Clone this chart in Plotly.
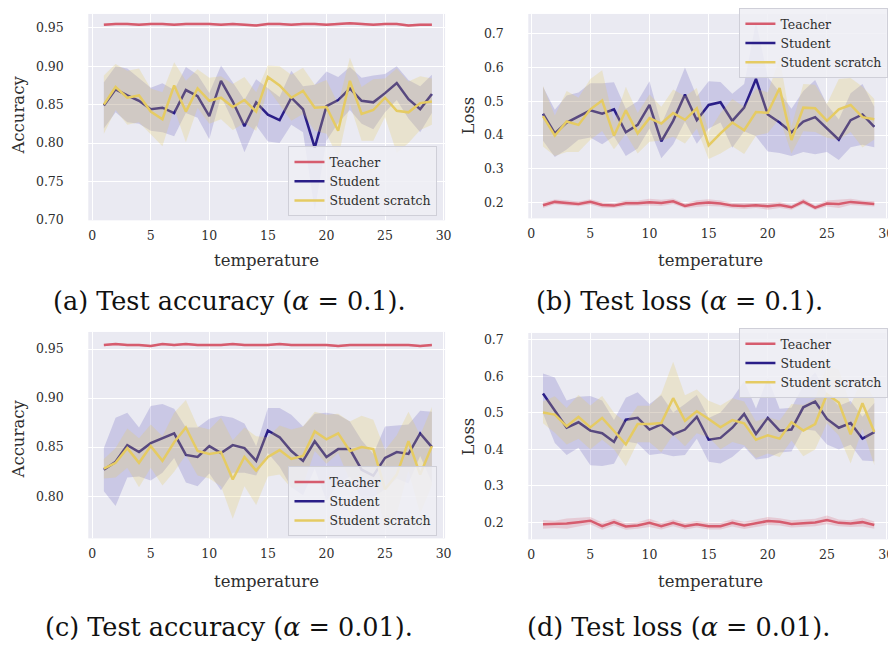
import plotly.graph_objects as go

W, H = 896, 646

temperature = list(range(1, 30))

# ---- (a) Test accuracy, alpha = 0.1 ----
a_teacher = [0.954, 0.955, 0.955, 0.954, 0.955, 0.955, 0.954, 0.955, 0.955, 0.955,
             0.954, 0.955, 0.954, 0.953, 0.955, 0.955, 0.954, 0.955, 0.955, 0.954,
             0.955, 0.956, 0.955, 0.954, 0.955, 0.955, 0.953, 0.954, 0.954]
a_teacher_sd = [0.0015] * 29
a_student = [0.849, 0.870, 0.862, 0.855, 0.844, 0.846, 0.839, 0.869, 0.861, 0.835,
             0.881, 0.854, 0.822, 0.853, 0.837, 0.830, 0.859, 0.844, 0.794, 0.848,
             0.856, 0.871, 0.855, 0.853, 0.865, 0.878, 0.857, 0.844, 0.864]
a_student_sd = [0.030, 0.030, 0.035, 0.030, 0.028, 0.032, 0.030, 0.030, 0.028, 0.030,
                0.020, 0.025, 0.034, 0.030, 0.035, 0.030, 0.035, 0.030, 0.082, 0.045,
                0.030, 0.028, 0.030, 0.035, 0.025, 0.022, 0.025, 0.030, 0.025]
a_scratch = [0.850, 0.873, 0.859, 0.862, 0.841, 0.831, 0.875, 0.841, 0.871, 0.855,
             0.859, 0.847, 0.856, 0.841, 0.886, 0.875, 0.859, 0.868, 0.846, 0.847,
             0.816, 0.881, 0.838, 0.843, 0.859, 0.842, 0.840, 0.852, 0.854]
a_scratch_sd = [0.038, 0.030, 0.035, 0.035, 0.030, 0.035, 0.030, 0.040, 0.025, 0.030,
                0.028, 0.030, 0.030, 0.025, 0.015, 0.025, 0.030, 0.030, 0.030, 0.035,
                0.035, 0.030, 0.035, 0.040, 0.025, 0.055, 0.040, 0.035, 0.030]

# ---- (b) Test loss, alpha = 0.1 ----
b_teacher = [0.192, 0.202, 0.199, 0.196, 0.202, 0.193, 0.191, 0.198, 0.198, 0.201,
             0.199, 0.204, 0.190, 0.197, 0.200, 0.197, 0.191, 0.190, 0.192, 0.189,
             0.193, 0.186, 0.203, 0.185, 0.197, 0.196, 0.202, 0.198, 0.196]
b_teacher_sd = [0.008, 0.007, 0.008, 0.007, 0.008, 0.008, 0.007, 0.008, 0.008, 0.010,
                0.009, 0.008, 0.007, 0.010, 0.010, 0.009, 0.008, 0.009, 0.008, 0.010,
                0.009, 0.007, 0.008, 0.007, 0.009, 0.012, 0.009, 0.008, 0.008]
b_student = [0.463, 0.405, 0.437, 0.456, 0.473, 0.463, 0.476, 0.408, 0.430, 0.489,
             0.381, 0.442, 0.520, 0.444, 0.489, 0.497, 0.442, 0.481, 0.566, 0.461,
             0.437, 0.408, 0.440, 0.453, 0.420, 0.386, 0.444, 0.461, 0.424]
b_student_sd = [0.080, 0.070, 0.080, 0.070, 0.080, 0.090, 0.080, 0.070, 0.070, 0.070,
                0.050, 0.070, 0.080, 0.070, 0.070, 0.060, 0.080, 0.070, 0.170, 0.110,
                0.090, 0.070, 0.090, 0.110, 0.070, 0.060, 0.080, 0.090, 0.060]
b_scratch = [0.456, 0.398, 0.440, 0.430, 0.476, 0.502, 0.398, 0.473, 0.405, 0.450,
             0.434, 0.465, 0.445, 0.479, 0.369, 0.405, 0.437, 0.414, 0.468, 0.466,
             0.539, 0.385, 0.481, 0.479, 0.442, 0.476, 0.489, 0.453, 0.447]
b_scratch_sd = [0.090, 0.060, 0.090, 0.080, 0.090, 0.090, 0.040, 0.070, 0.060, 0.070,
                0.050, 0.070, 0.070, 0.060, 0.040, 0.060, 0.070, 0.070, 0.070, 0.060,
                0.090, 0.040, 0.070, 0.070, 0.050, 0.090, 0.080, 0.090, 0.060]

# ---- (c) Test accuracy, alpha = 0.01 ----
c_teacher = [0.954, 0.955, 0.954, 0.954, 0.953, 0.955, 0.954, 0.955, 0.954, 0.954,
             0.954, 0.955, 0.954, 0.954, 0.954, 0.955, 0.954, 0.954, 0.954, 0.954,
             0.953, 0.954, 0.954, 0.954, 0.954, 0.954, 0.954, 0.953, 0.954]
c_teacher_sd = [0.0012] * 29
c_student = [0.827, 0.835, 0.852, 0.845, 0.854, 0.859, 0.864, 0.842, 0.840, 0.851,
             0.844, 0.852, 0.849, 0.836, 0.867, 0.860, 0.846, 0.836, 0.856, 0.840,
             0.848, 0.848, 0.827, 0.821, 0.839, 0.845, 0.843, 0.864, 0.850]
c_student_sd = [0.022, 0.045, 0.033, 0.025, 0.038, 0.035, 0.025, 0.028, 0.030, 0.028,
                0.038, 0.028, 0.025, 0.015, 0.023, 0.030, 0.037, 0.035, 0.028, 0.045,
                0.035, 0.028, 0.030, 0.022, 0.032, 0.027, 0.030, 0.023, 0.036]
c_scratch = [0.828, 0.834, 0.849, 0.834, 0.851, 0.836, 0.855, 0.870, 0.846, 0.843,
             0.845, 0.817, 0.840, 0.826, 0.840, 0.847, 0.838, 0.841, 0.866, 0.858,
             0.864, 0.846, 0.850, 0.848, 0.807, 0.822, 0.856, 0.822, 0.851]
c_scratch_sd = [0.010, 0.015, 0.020, 0.025, 0.022, 0.025, 0.030, 0.028, 0.025, 0.025,
                0.035, 0.040, 0.030, 0.035, 0.020, 0.025, 0.030, 0.030, 0.020, 0.025,
                0.020, 0.030, 0.032, 0.030, 0.040, 0.040, 0.030, 0.040, 0.040]

# ---- (d) Test loss, alpha = 0.01 ----
d_teacher = [0.194, 0.194, 0.196, 0.200, 0.204, 0.189, 0.200, 0.188, 0.191, 0.198,
             0.189, 0.198, 0.189, 0.194, 0.189, 0.189, 0.198, 0.191, 0.197, 0.203,
             0.201, 0.195, 0.197, 0.199, 0.206, 0.198, 0.196, 0.200, 0.192]
d_teacher_sd = [0.012, 0.010, 0.014, 0.011, 0.010, 0.010, 0.009, 0.009, 0.009, 0.011,
                0.009, 0.009, 0.009, 0.009, 0.009, 0.009, 0.010, 0.010, 0.010, 0.011,
                0.010, 0.010, 0.010, 0.010, 0.012, 0.009, 0.009, 0.012, 0.010]
d_student = [0.553, 0.507, 0.459, 0.474, 0.451, 0.444, 0.420, 0.481, 0.486, 0.454,
             0.468, 0.441, 0.454, 0.489, 0.426, 0.431, 0.459, 0.497, 0.442, 0.486,
             0.451, 0.454, 0.515, 0.531, 0.483, 0.459, 0.472, 0.429, 0.447]
d_student_sd = [0.055, 0.090, 0.075, 0.070, 0.095, 0.090, 0.060, 0.060, 0.070, 0.070,
                0.080, 0.060, 0.070, 0.060, 0.060, 0.070, 0.080, 0.090, 0.070, 0.110,
                0.060, 0.060, 0.060, 0.080, 0.070, 0.060, 0.060, 0.060, 0.080]
d_scratch = [0.501, 0.495, 0.463, 0.489, 0.460, 0.486, 0.450, 0.413, 0.469, 0.469,
             0.472, 0.540, 0.478, 0.504, 0.483, 0.460, 0.480, 0.471, 0.426, 0.438,
             0.429, 0.474, 0.451, 0.469, 0.551, 0.528, 0.441, 0.526, 0.447]
d_scratch_sd = [0.030, 0.050, 0.050, 0.060, 0.060, 0.060, 0.050, 0.060, 0.050, 0.050,
                0.080, 0.100, 0.070, 0.060, 0.050, 0.060, 0.060, 0.060, 0.050, 0.050,
                0.050, 0.050, 0.070, 0.070, 0.080, 0.090, 0.080, 0.070, 0.090]

series_names = ["Teacher", "Student", "Student scratch"]
x_ticks = [0, 5, 10, 15, 20, 25, 30]
acc_ticks_a = [0.70, 0.75, 0.80, 0.85, 0.90, 0.95]
acc_ticks_c = [0.80, 0.85, 0.90, 0.95]
loss_ticks = [0.2, 0.3, 0.4, 0.5, 0.6, 0.7]
captions = ["(a) Test accuracy (<i>α</i> = 0.1).",
            "(b) Test loss (<i>α</i> = 0.1).",
            "(c) Test accuracy (<i>α</i> = 0.01).",
            "(d) Test loss (<i>α</i> = 0.01)."]

COLORS = ["#d65c6e", "#2a1e88", "#e5cb63"]
BANDS = ["rgba(214,92,110,0.22)", "rgba(60,50,170,0.18)", "rgba(229,203,99,0.25)"]
FONT = "DejaVu Serif"
TXT = "#2e2e2e"

fig = go.Figure()

panels = [
    (a_teacher, a_teacher_sd, a_student, a_student_sd, a_scratch, a_scratch_sd),
    (b_teacher, b_teacher_sd, b_student, b_student_sd, b_scratch, b_scratch_sd),
    (c_teacher, c_teacher_sd, c_student, c_student_sd, c_scratch, c_scratch_sd),
    (d_teacher, d_teacher_sd, d_student, d_student_sd, d_scratch, d_scratch_sd),
]

# pixel layout of each panel: (left, right, top, bottom), y range, x range, ticks, format
layouts = [
    ((80, 440, 5, 214), [0.6995, 0.968], [-0.33, 30.125], acc_ticks_a, ".2f"),
    ((524, 891, 5, 212), [0.1532, 0.7585], [-0.24, 30.5], loss_ticks, ".1f"),
    ((80, 440, 327, 536), [0.757, 0.9674], [-0.33, 30.125], acc_ticks_c, ".2f"),
    ((524, 891, 328, 537), [0.1528, 0.719], [-0.24, 30.5], loss_ticks, ".1f"),
]

legend_pos = [(282, 139), (737, -1), (282, 463), (737, 323)]

for i, data in enumerate(panels):
    n = i + 1
    xa = "x" if n == 1 else f"x{n}"
    ya = "y" if n == 1 else f"y{n}"
    leg = "legend" if n == 1 else f"legend{n}"
    for k in range(3):
        mean = data[2 * k]
        sd = data[2 * k + 1]
        upper = [m + s for m, s in zip(mean, sd)]
        lower = [m - s for m, s in zip(mean, sd)]
        fig.add_trace(go.Scatter(
            x=temperature + temperature[::-1], y=upper + lower[::-1],
            fill="toself", fillcolor=BANDS[k], line=dict(width=0),
            mode="lines", hoverinfo="skip", showlegend=False,
            xaxis=xa, yaxis=ya))
        fig.add_trace(go.Scatter(
            x=temperature, y=mean, mode="lines", name=series_names[k],
            line=dict(color=COLORS[k], width=2.5),
            xaxis=xa, yaxis=ya, legend=leg))

layout_updates = {}
for i, lay in enumerate(layouts):
    n = i + 1
    (l, r, t, b), yr, xr, yt, fmt = lay
    xkey = "xaxis" if n == 1 else f"xaxis{n}"
    ykey = "yaxis" if n == 1 else f"yaxis{n}"
    ya = "y" if n == 1 else f"y{n}"
    xa = "x" if n == 1 else f"x{n}"
    layout_updates[xkey] = dict(
        domain=[l / W, r / W], range=xr, anchor=ya,
        tickvals=x_ticks, showgrid=True, gridcolor="white", gridwidth=1.3,
        zeroline=False, showline=False, ticks="",
        tickfont=dict(family=FONT, size=12.5, color=TXT),
        ticklabelstandoff=6)
    layout_updates[ykey] = dict(
        domain=[1 - b / H, 1 - t / H], range=yr, anchor=xa,
        tickvals=yt, tickformat=fmt, showgrid=True, gridcolor="white",
        gridwidth=1.3, zeroline=False, showline=False,
        ticks="outside", ticklen=21, tickcolor="rgba(0,0,0,0)",
        tickfont=dict(family=FONT, size=12.5, color=TXT))
    lx, ly = legend_pos[i]
    lkey = "legend" if n == 1 else f"legend{n}"
    layout_updates[lkey] = dict(
        x=lx / W, y=1 - ly / H, xanchor="left", yanchor="top",
        bgcolor="rgba(238,238,245,0.85)", bordercolor="#cfcfd8", borderwidth=1,
        font=dict(family=FONT, size=12.5, color=TXT),
        itemwidth=30, tracegroupgap=0)

annotations = []
xtitle_pos = [(260, 255), (708, 255), (260, 580), (708, 580)]
ytitle_pos = [(10, 107, "Accuracy"), (464, 108, "Loss"), (10, 435, "Accuracy"), (464, 433, "Loss")]
caption_pos = [(222, 296), (677, 296), (222, 626), (676, 626)]
for (px, py) in xtitle_pos:
    annotations.append(dict(text="temperature", x=px / W, y=1 - py / H, xref="paper",
                            yref="paper", showarrow=False, xanchor="center", yanchor="middle",
                            font=dict(family=FONT, size=16.5, color=TXT)))
for (px, py, txt) in ytitle_pos:
    annotations.append(dict(text=txt, x=px / W, y=1 - py / H, xref="paper",
                            yref="paper", showarrow=False, xanchor="center", yanchor="middle",
                            textangle=-90, font=dict(family=FONT, size=16.5, color=TXT)))
for (px, py), txt in zip(caption_pos, captions):
    annotations.append(dict(text=txt, x=px / W, y=1 - py / H, xref="paper",
                            yref="paper", showarrow=False, xanchor="center", yanchor="middle",
                            font=dict(family=FONT, size=25.5, color="#111111")))

fig.update_layout(
    width=W, height=H, margin=dict(l=0, r=0, t=0, b=0),
    paper_bgcolor="white", plot_bgcolor="#EAEAF2",
    annotations=annotations, **layout_updates)

fig.write_html("out.html")
